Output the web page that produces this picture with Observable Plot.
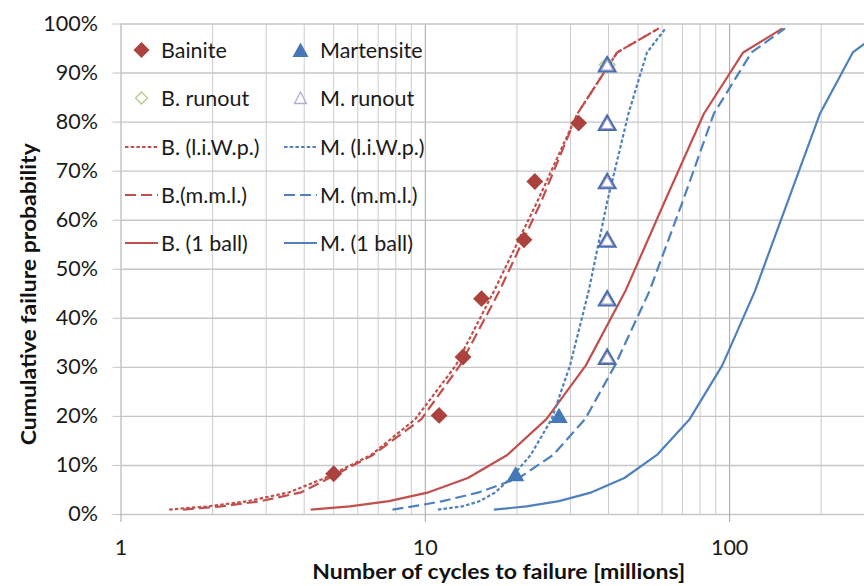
<!DOCTYPE html>
<html>
<head>
<meta charset="utf-8">
<script src="https://cdn.jsdelivr.net/npm/d3@7"></script>
<script src="https://cdn.jsdelivr.net/npm/@observablehq/plot@0.6"></script>
<style>
  body { margin: 0; background: #fff; }
  #wrap { position: relative; width: 864px; height: 586px; font-family: Lato, "Open Sans", sans-serif; }
  #legend { position: absolute; left: 125px; top: 26px; display: grid;
            grid-template-columns: 159px 220px; grid-auto-rows: 48.3px; }
  .item { display: flex; align-items: center; font-size: 21.5px; color: #1a1a1a; white-space: nowrap; }
  .item svg { width: 33px; height: 20px; margin-right: 3px; flex: none; overflow: visible; }
</style>
</head>
<body>
<div id="wrap"><div id="legend"></div></div>
<script>
// Cumulative failure probability (%) at which each fitted curve has a vertex
const curveProb = [1.0, 1.64, 2.72, 4.52, 7.44, 12.14, 19.44, 30.4, 45.5, 63.7, 81.7, 94.2, 99.1];

// Cycles (millions) of each fitted curve at those probabilities
const bLiwpCycles  = [1.44, 1.92, 2.61, 3.57, 4.68, 6.64, 9.27, 12.6, 16.8, 23.3, 31.6, 42.7, 58.5];
const bMmlCycles   = [1.6, 2.13, 2.88, 3.91, 4.83, 6.73, 9.71, 13.0, 17.5, 24.0, 31.6, 42.7, 58.5];
const b1BallCycles = [4.2, 5.65, 7.6, 10.25, 13.8, 18.6, 25.0, 33.7, 45.4, 61.1, 82.3, 110.8, 149.2];
const mLiwpCycles  = [11.0, 13.2, 15.1, 17.0, 19.1, 22.2, 26.0, 29.9, 34.4, 39.6, 46.5, 53.5, 61.6];
const mMmlCycles   = [7.8, 9.1, 11.4, 15.0, 20.3, 26.3, 33.5, 42.0, 54.5, 70.0, 88.7, 118, 152];
const m1BallCycles = [16.8, 21.5, 27.5, 35.2, 45.1, 57.7, 73.9, 94.6, 121, 155, 198, 254, 325];

// Test results
const bainiteCycles = [5.0, 11.1, 13.3, 15.3, 21.1, 22.9, 31.9];
const bainiteProb   = [8.3, 20.2, 32.1, 44.0, 56.0, 67.9, 79.8];
const bRunoutCycles = [39.6];
const bRunoutProb   = [91.7];
const martensiteCycles = [19.8, 27.5];
const martensiteProb   = [8.3, 20.2];
const mRunoutCycles = [39.6, 39.6, 39.6, 39.6, 39.6, 39.6];
const mRunoutProb   = [32.1, 44.0, 56.0, 67.9, 79.8, 91.7];

// Axes
const yTicks = [0, 10, 20, 30, 40, 50, 60, 70, 80, 90, 100];
const xTicks = [1, 10, 100];
const xMinorGrid = [2, 3, 4, 5, 6, 7, 8, 9, 20, 30, 40, 50, 60, 70, 80, 90, 200];
const yTitle = "Cumulative failure probability";
const xTitle = "Number of cycles to failure [millions]";

const RED = "#c0504d", BLUE = "#4f81bd";
const SHORT = "3.5,2.2", LONG = "11,5";

const curves = [
  {name: "B. (l.i.W.p.)", cycles: bLiwpCycles, color: RED, dash: SHORT},
  {name: "B.(m.m.l.)", cycles: bMmlCycles, color: RED, dash: LONG},
  {name: "B. (1 ball)", cycles: b1BallCycles, color: RED, dash: null},
  {name: "M. (l.i.W.p.)", cycles: mLiwpCycles, color: BLUE, dash: SHORT},
  {name: "M. (m.m.l.)", cycles: mMmlCycles, color: BLUE, dash: LONG},
  {name: "M. (1 ball)", cycles: m1BallCycles, color: BLUE, dash: null}
];

const pts = (xs, ys) => xs.map((x, i) => ({x, y: ys[i]}));

const lineMarks = curves.map(c =>
  Plot.line(c.cycles.map((x, i) => ({x, y: curveProb[i]})), {
    x: "x", y: "y", stroke: c.color, strokeWidth: 2.2,
    strokeDasharray: c.dash, strokeLinecap: "butt", strokeLinejoin: "round", clip: true
  })
);

const FONT = 21.5;
const chart = Plot.plot({
  width: 864,
  height: 586,
  marginLeft: 120.5,
  marginRight: 0,
  marginTop: 23.5,
  marginBottom: 72,
  style: {fontFamily: "Lato, 'Open Sans', sans-serif", fontSize: FONT + "px", color: "#1a1a1a", background: "transparent"},
  x: {type: "log", domain: [1, 277.5]},
  y: {domain: [0, 100]},
  marks: [
    Plot.ruleX(xMinorGrid, {stroke: "#cccccc", strokeWidth: 1}),
    Plot.ruleX(xTicks, {stroke: "#a6a6a6", strokeWidth: 1}),
    Plot.ruleY(yTicks, {stroke: "#c6c6c6", strokeWidth: 1.4}),
    Plot.axisY({ticks: yTicks, tickFormat: d => d + "%", tickSize: 8, tickPadding: 15,
                stroke: "#c6c6c6", fill: "#1a1a1a", label: null, fontSize: FONT}),
    Plot.axisX({ticks: xTicks, tickFormat: d => String(d), tickSize: 8, tickPadding: 17,
                stroke: "#a6a6a6", fill: "#1a1a1a", label: null, fontSize: FONT}),
    ...lineMarks,
    Plot.dot(pts(bainiteCycles, bainiteProb), {x: "x", y: "y", symbol: "diamond2", r: 7.6, fill: "#ab423e", stroke: "none"}),
    Plot.dot(pts(bRunoutCycles, bRunoutProb), {x: "x", y: "y", symbol: "diamond2", r: 7, fill: "none", stroke: "#b5c98e", strokeWidth: 1.5}),
    Plot.dot(pts(martensiteCycles, martensiteProb), {x: "x", y: "y", symbol: "triangle2", r: 8.4, dy: 2.5, fill: "#4677b6", stroke: "none"}),
    Plot.dot(pts(mRunoutCycles, mRunoutProb), {x: "x", y: "y", symbol: "triangle2", r: 7.4, dy: 2, fill: "white", stroke: "#4a6fae", strokeWidth: 2.8}),
    Plot.dot(pts(mRunoutCycles, mRunoutProb), {x: "x", y: "y", symbol: "triangle2", r: 5.8, dy: 2, fill: "none", stroke: "#b7a9d6", strokeWidth: 1}),
    Plot.text([yTitle], {text: d => d, frameAnchor: "left", textAnchor: "middle", lineAnchor: "middle",
              dx: -92, dy: 25, rotate: -90, fontWeight: "bold", fontSize: FONT, fill: "#111", className: "ytitle"}),
    Plot.text([xTitle], {text: d => d, frameAnchor: "bottom", textAnchor: "middle", lineAnchor: "middle",
              dx: 6, dy: 58, fontWeight: "bold", fontSize: 21, fill: "#111", className: "xtitle"})
  ]
});
document.getElementById("wrap").prepend(chart);
d3.select(chart).selectAll(".ytitle text").attr("textLength", 302).attr("lengthAdjust", "spacingAndGlyphs");
d3.select(chart).selectAll(".xtitle text").attr("textLength", 373).attr("lengthAdjust", "spacingAndGlyphs");

// Legend (HTML overlay)
const redCurves = curves.filter(c => c.color === RED);
const blueCurves = curves.filter(c => c.color === BLUE);
const legendItems = [
  {label: "Bainite", kind: "diamond", fill: "#ab423e"},
  {label: "Martensite", kind: "triangle", fill: "#4677b6"},
  {label: "B. runout", kind: "diamondOpen", stroke: "#b5c98e"},
  {label: "M. runout", kind: "triangleOpen", stroke: "#b7a9d6"},
  ...redCurves.flatMap((c, i) => [
    {label: c.name, kind: "line", color: c.color, dash: c.dash},
    {label: blueCurves[i].name, kind: "line", color: blueCurves[i].color, dash: blueCurves[i].dash}
  ])
];
const legend = d3.select("#legend");
for (const it of legendItems) {
  const row = legend.append("div").attr("class", "item");
  const svg = row.append("svg").attr("viewBox", "0 0 33 20");
  if (it.kind === "line") {
    svg.append("line").attr("x1", 0).attr("x2", 33).attr("y1", 10).attr("y2", 10)
      .attr("stroke", it.color).attr("stroke-width", 2.2).attr("stroke-dasharray", it.dash);
  } else if (it.kind === "diamond") {
    svg.append("path").attr("d", "M16.5,2L24.5,10L16.5,18L8.5,10Z").attr("fill", it.fill);
  } else if (it.kind === "diamondOpen") {
    svg.append("path").attr("d", "M16.5,4L22.5,10L16.5,16L10.5,10Z").attr("fill", "none").attr("stroke", it.stroke).attr("stroke-width", 1.3);
  } else if (it.kind === "triangle") {
    svg.append("path").attr("d", "M16.5,2.5L24.5,17L8.5,17Z").attr("fill", it.fill);
  } else if (it.kind === "triangleOpen") {
    svg.append("path").attr("d", "M16.5,4L22.5,15.5L10.5,15.5Z").attr("fill", "none").attr("stroke", it.stroke).attr("stroke-width", 1.3);
  }
  row.append("span").text(it.label);
}
</script>
</body>
</html>
